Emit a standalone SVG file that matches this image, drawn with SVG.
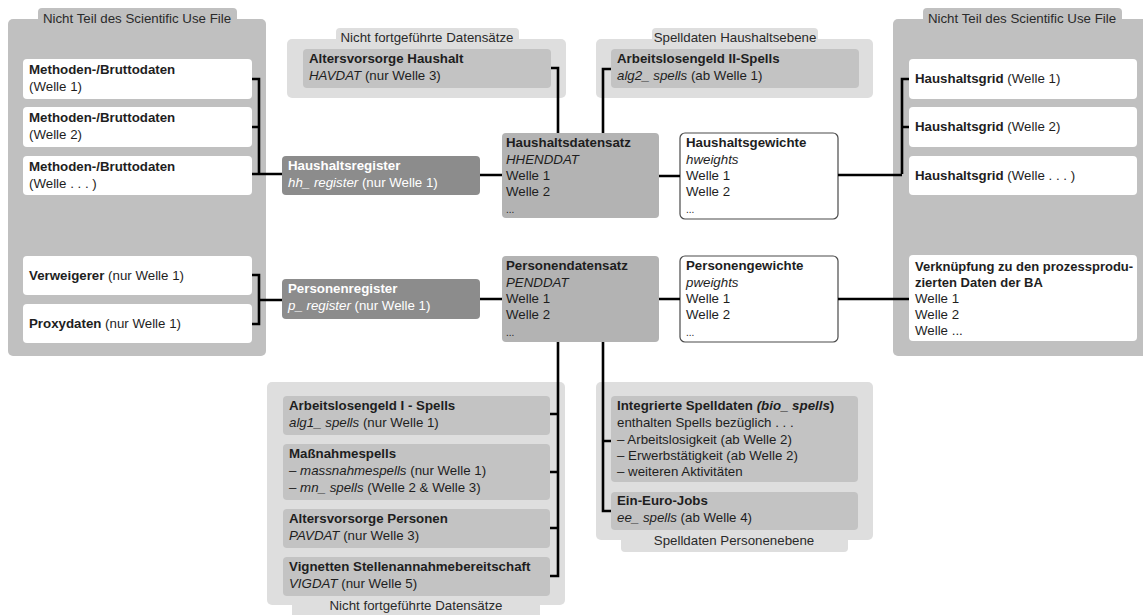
<svg xmlns="http://www.w3.org/2000/svg" width="1143" height="615" viewBox="0 0 1143 615">
<style>
text{font-family:"Liberation Sans",Arial,sans-serif;font-size:13.3px;fill:#1e1e1e}
.b{font-weight:bold}
.i{font-style:italic}
.w{fill:#fff}
.ttl{text-anchor:middle;fill:#2a2a2a}
.panel{fill:#c0c0c0}
.grp{fill:#dedede}
.inner{fill:#c3c3c3}
.wbox{fill:#fff}
.ds{fill:#b3b3b3}
.reg{fill:#8c8c8c}
.wt{fill:#fff;stroke:#4a4a4a;stroke-width:1.2}
.c{fill:none;stroke:#000;stroke-width:2.6}
</style>
<rect width="1143" height="615" fill="#fff"/>

<g id="left-panel">
<rect class="panel" x="38" y="8" width="199" height="20" rx="4"/>
<rect class="panel" x="8" y="19" width="258" height="337" rx="5"/>
<text class="ttl" x="137" y="23">Nicht Teil des Scientific Use File</text>
</g>
<g id="meth1"><rect class="wbox" x="23" y="59" width="229" height="40" rx="4"/><text class="b" x="29" y="74">Methoden-/Bruttodaten</text><text x="29" y="91">(Welle 1)</text></g>
<g id="meth2"><rect class="wbox" x="23" y="107" width="229" height="40" rx="4"/><text class="b" x="29" y="122">Methoden-/Bruttodaten</text><text x="29" y="139">(Welle 2)</text></g>
<g id="meth3"><rect class="wbox" x="23" y="156" width="229" height="39" rx="4"/><text class="b" x="29" y="171">Methoden-/Bruttodaten</text><text x="29" y="188">(Welle . . . )</text></g>
<g id="verweigerer"><rect class="wbox" x="23" y="256" width="229" height="39" rx="4"/><text x="29" y="280"><tspan class="b">Verweigerer</tspan> (nur Welle 1)</text></g>
<g id="proxy"><rect class="wbox" x="23" y="304" width="229" height="39" rx="4"/><text x="29" y="328"><tspan class="b">Proxydaten</tspan> (nur Welle 1)</text></g>

<g id="right-panel">
<rect class="panel" x="923" y="8" width="199" height="20" rx="4"/>
<rect class="panel" x="893" y="19" width="260" height="337" rx="5"/>
<text class="ttl" x="1022" y="23">Nicht Teil des Scientific Use File</text>
</g>
<g id="grid1"><rect class="wbox" x="909" y="59" width="228" height="40" rx="4"/><text x="915" y="83"><tspan class="b">Haushaltsgrid</tspan> (Welle 1)</text></g>
<g id="grid2"><rect class="wbox" x="909" y="107" width="228" height="40" rx="4"/><text x="915" y="131"><tspan class="b">Haushaltsgrid</tspan> (Welle 2)</text></g>
<g id="grid3"><rect class="wbox" x="909" y="156" width="228" height="39" rx="4"/><text x="915" y="180"><tspan class="b">Haushaltsgrid</tspan> (Welle . . . )</text></g>
<g id="verknuepfung"><rect class="wbox" x="909" y="255" width="228" height="86" rx="4"/>
<text class="b" x="915" y="271" style="font-size:13px">Verknüpfung zu den prozessprodu-</text>
<text class="b" x="915" y="287" style="font-size:13px">zierten Daten der BA</text>
<text x="915" y="303">Welle 1</text><text x="915" y="319">Welle 2</text><text x="915" y="335">Welle ...</text></g>

<g id="top-mid-group">
<rect class="grp" x="336" y="28" width="183" height="20" rx="4"/>
<rect class="grp" x="287" y="39" width="279" height="59" rx="5"/>
<text class="ttl" x="427" y="42">Nicht fortgeführte Datensätze</text>
</g>
<g id="havdat"><rect class="inner" x="303" y="49" width="248" height="39" rx="4"/><text class="b" x="309" y="63">Altersvorsorge Haushalt</text><text x="309" y="80"><tspan class="i">HAVDAT</tspan> (nur Welle 3)</text></g>

<g id="top-right-group">
<rect class="grp" x="652" y="28" width="166" height="20" rx="4"/>
<rect class="grp" x="596" y="39" width="277" height="59" rx="5"/>
<text class="ttl" x="735" y="42">Spelldaten Haushaltsebene</text>
</g>
<g id="alg2"><rect class="inner" x="611" y="49" width="248" height="39" rx="4"/><text class="b" x="617" y="63">Arbeitslosengeld II-Spells</text><text x="617" y="80"><tspan class="i">alg2_ spells</tspan> (ab Welle 1)</text></g>

<g id="hhregister"><rect class="reg" x="282" y="156" width="198" height="39" rx="4"/><text class="b w" x="288" y="170">Haushaltsregister</text><text class="w" x="288" y="187"><tspan class="i">hh_ register</tspan> (nur Welle 1)</text></g>
<g id="pregister"><rect class="reg" x="282" y="279" width="198" height="40" rx="4"/><text class="b w" x="288" y="293">Personenregister</text><text class="w" x="288" y="310"><tspan class="i">p_ register</tspan> (nur Welle 1)</text></g>

<g id="hhenddat"><rect class="ds" x="502" y="133" width="157" height="85" rx="4"/>
<text class="b" x="506" y="147">Haushaltsdatensatz</text><text class="i" x="506" y="164">HHENDDAT</text>
<text x="506" y="180">Welle 1</text><text x="506" y="196">Welle 2</text><text x="506" y="213" style="font-size:10px">...</text></g>
<g id="penddat"><rect class="ds" x="502" y="256" width="157" height="86" rx="4"/>
<text class="b" x="506" y="270">Personendatensatz</text><text class="i" x="506" y="287">PENDDAT</text>
<text x="506" y="303">Welle 1</text><text x="506" y="319">Welle 2</text><text x="506" y="336" style="font-size:10px">...</text></g>

<g id="hweights"><rect class="wt" x="680" y="133" width="158" height="86" rx="5"/>
<text class="b" x="686" y="147">Haushaltsgewichte</text><text class="i" x="686" y="164">hweights</text>
<text x="686" y="180">Welle 1</text><text x="686" y="196">Welle 2</text><text x="686" y="213" style="font-size:10px">...</text></g>
<g id="pweights"><rect class="wt" x="680" y="256" width="158" height="86" rx="5"/>
<text class="b" x="686" y="270">Personengewichte</text><text class="i" x="686" y="287">pweights</text>
<text x="686" y="303">Welle 1</text><text x="686" y="319">Welle 2</text><text x="686" y="336" style="font-size:10px">...</text></g>

<g id="bottom-left-group">
<rect class="grp" x="292" y="590" width="248" height="30" rx="4"/>
<rect class="grp" x="267" y="382" width="298" height="223" rx="5"/>
<text class="ttl" x="416" y="610">Nicht fortgeführte Datensätze</text>
</g>
<g id="alg1"><rect class="inner" x="283" y="396" width="267" height="39" rx="4"/><text class="b" x="289" y="410">Arbeitslosengeld I - Spells</text><text x="289" y="427"><tspan class="i">alg1_ spells</tspan> (nur Welle 1)</text></g>
<g id="massnahme"><rect class="inner" x="283" y="444" width="267" height="56" rx="4"/><text class="b" x="289" y="458">Maßnahmespells</text><text x="289" y="475">– <tspan class="i">massnahmespells</tspan> (nur Welle 1)</text><text x="289" y="492">– <tspan class="i">mn_ spells</tspan> (Welle 2 &amp; Welle 3)</text></g>
<g id="pavdat"><rect class="inner" x="283" y="509" width="267" height="39" rx="4"/><text class="b" x="289" y="523">Altersvorsorge Personen</text><text x="289" y="540"><tspan class="i">PAVDAT</tspan> (nur Welle 3)</text></g>
<g id="vigdat"><rect class="inner" x="283" y="557" width="267" height="39" rx="4"/><text class="b" x="289" y="571">Vignetten Stellenannahmebereitschaft</text><text x="289" y="588"><tspan class="i">VIGDAT</tspan> (nur Welle 5)</text></g>

<g id="bottom-right-group">
<rect class="grp" x="621" y="530" width="227" height="22" rx="4"/>
<rect class="grp" x="596" y="382" width="277" height="158" rx="5"/>
<text class="ttl" x="734" y="545">Spelldaten Personenebene</text>
</g>
<g id="biospells"><rect class="inner" x="611" y="396" width="247" height="86" rx="4"/>
<text x="617" y="410"><tspan class="b">Integrierte Spelldaten </tspan><tspan class="b i">(bio_ spells</tspan><tspan class="b">)</tspan></text>
<text x="617" y="427">enthalten Spells bezüglich . . .</text>
<text x="617" y="444">– Arbeitslosigkeit (ab Welle 2)</text>
<text x="617" y="460">– Erwerbstätigkeit (ab Welle 2)</text>
<text x="617" y="476">– weiteren Aktivitäten</text></g>
<g id="eeuro"><rect class="inner" x="611" y="492" width="247" height="38" rx="4"/><text class="b" x="617" y="505">Ein-Euro-Jobs</text><text x="617" y="522"><tspan class="i">ee_ spells</tspan> (ab Welle 4)</text></g>

<g id="connectors">
<path class="c" d="M252 79H259V174M252 127H259M252 174H282"/>
<path class="c" d="M252 275H259V324H252M259 300H282"/>
<path class="c" d="M480 175H502M480 299H502"/>
<path class="c" d="M551 68H558V133"/>
<path class="c" d="M611 69H603V133"/>
<path class="c" d="M659 176H680M659 299H680"/>
<path class="c" d="M838 175H902M909 79H902V174M902 127H909"/>
<path class="c" d="M838 299H909"/>
<path class="c" d="M558 342V576H550M550 414H558M550 472H558M550 528H558"/>
<path class="c" d="M603 342V511H611M603 441H611"/>
</g>
</svg>
